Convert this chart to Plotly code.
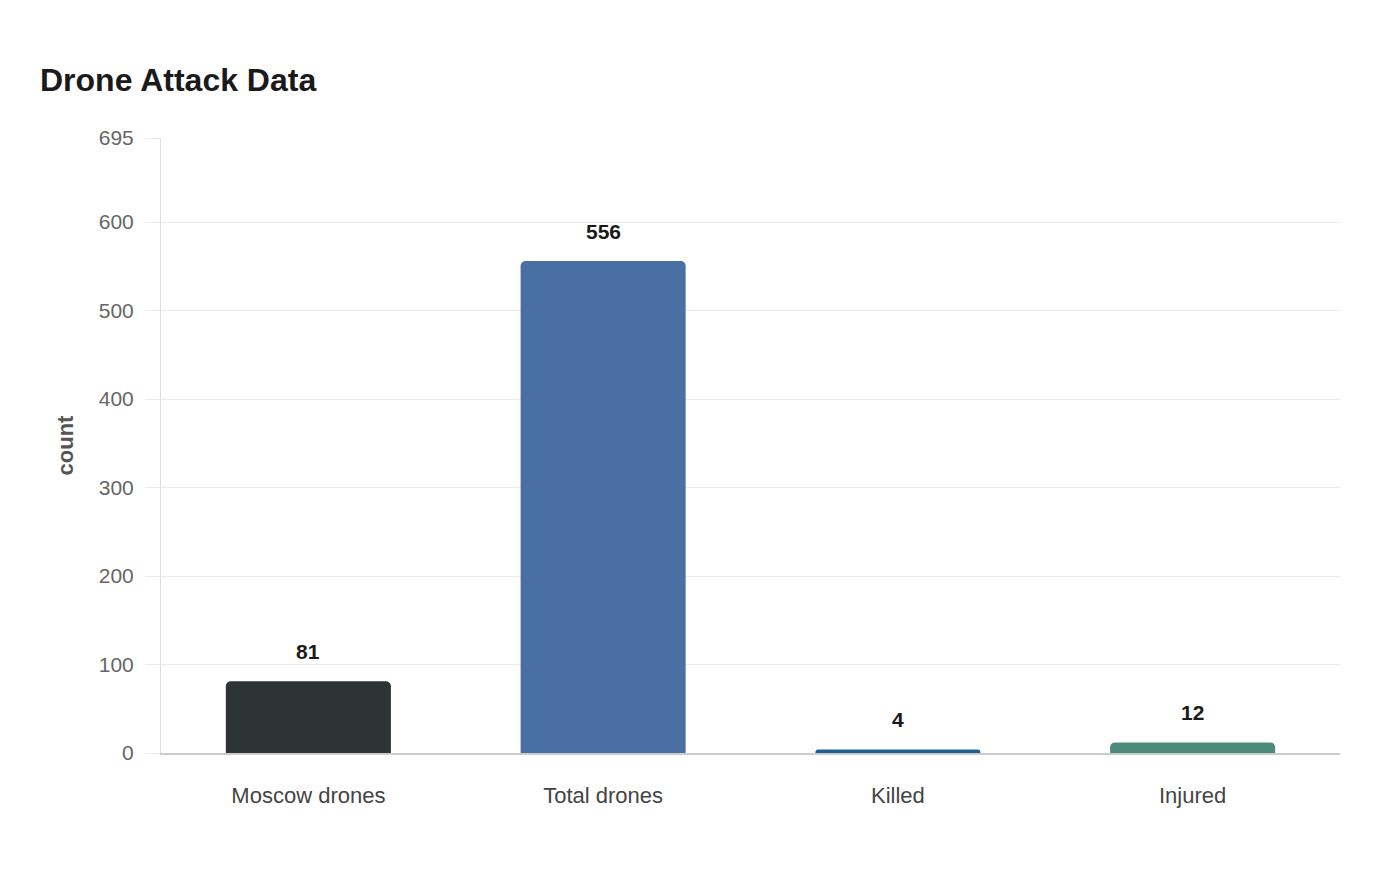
import plotly.graph_objects as go

categories = ["Moscow drones", "Total drones", "Killed", "Injured"]
values = [81, 556, 4, 12]
colors = ["#2d3436", "#4a6fa5", "#1f5f8f", "#4e8a7a"]
y_ticks = [0, 100, 200, 300, 400, 500, 600, 695]

fig = go.Figure()
fig.add_trace(go.Bar(
    x=categories, y=values,
    marker=dict(color=colors, cornerradius=5, line=dict(width=0)),
    width=0.56,
    hoverinfo="skip",
))
for c, v in zip(categories, values):
    fig.add_annotation(x=c, y=v, text=f"<b>{v}</b>", showarrow=False,
                       yanchor="bottom", yshift=16,
                       font=dict(size=21, color="#1a1a1a", family="Liberation Sans, Arial"))

fig.update_layout(
    width=1400, height=880,
    paper_bgcolor="white", plot_bgcolor="white",
    margin=dict(l=153, r=68, t=130, b=135),
    font=dict(family="Liberation Sans, Arial", size=20, color="#666"),
    title=dict(text="<b>Drone Attack Data</b>", x=32/1400, xanchor="left",
               y=1-72/880, yanchor="middle",
               font=dict(size=32, color="#1a1a1a")),
    showlegend=False,
    bargap=0.44,
)
fig.update_yaxes(
    range=[0, 695], tickvals=y_ticks, ticktext=[str(t) for t in y_ticks],
    showgrid=True, gridcolor="#ebebeb", gridwidth=1,
    zeroline=False, showline=True, linecolor="#e0e0e0", linewidth=1,
    ticks="outside", ticklen=15, tickcolor="#ebebeb",
    ticklabelstandoff=7,
    tickfont=dict(size=21, color="#666"),
    title=dict(text="<b>count</b>", font=dict(size=22, color="#555"), standoff=19),
    fixedrange=True,
)
fig.update_xaxes(
    showgrid=False, showline=True, linecolor="#cccccc", linewidth=2,
    ticks="", ticklabelstandoff=22, tickfont=dict(size=22, color="#444"),
)

fig.write_html("out.html")
